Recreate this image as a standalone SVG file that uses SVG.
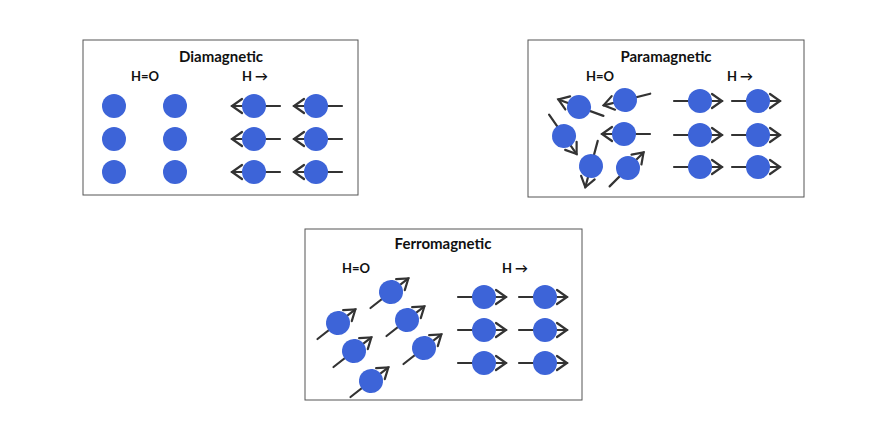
<svg xmlns="http://www.w3.org/2000/svg" xmlns:xlink="http://www.w3.org/1999/xlink" width="880" height="430" viewBox="0 0 880 430">
<style>
.box{fill:#fff;stroke:#555;stroke-width:1}
.t{font-family:Lato,"Open Sans",sans-serif;font-weight:bold;fill:#111;text-anchor:middle}
.ti{font-size:15px}.sub{font-size:13px}
.dot{fill:#3d64d8}
.ln{stroke:#333;stroke-width:2.2;fill:none;stroke-linecap:round}
</style>
<defs>
<g id="spin">
<line class="ln" x1="-26" y1="0" x2="22" y2="0"/>
<circle class="dot" r="12"/>
<polyline class="ln" points="12,-7 22,0 12,7"/>
</g>
<circle id="atom" class="dot" r="12"/>
</defs>
<rect width="880" height="430" fill="#fff"/>
<g id="diamagnetic">
<rect class="box" x="83" y="40" width="275" height="155"/>
<text class="t ti" x="221" y="62">Diamagnetic</text>
<text class="t sub" x="145" y="81">H=O</text>
<text class="t sub" x="255" y="81">H →</text>
<use href="#atom" x="114" y="106"/><use href="#atom" x="175" y="106"/>
<use href="#atom" x="114" y="139"/><use href="#atom" x="175" y="139"/>
<use href="#atom" x="114" y="172"/><use href="#atom" x="175" y="172"/>
<use href="#spin" transform="translate(254,106) rotate(180)"/><use href="#spin" transform="translate(316,106) rotate(180)"/>
<use href="#spin" transform="translate(254,139) rotate(180)"/><use href="#spin" transform="translate(316,139) rotate(180)"/>
<use href="#spin" transform="translate(254,172) rotate(180)"/><use href="#spin" transform="translate(316,172) rotate(180)"/>
</g>
<g id="paramagnetic">
<rect class="box" x="528" y="40" width="276" height="157"/>
<text class="t ti" x="666" y="62">Paramagnetic</text>
<text class="t sub" x="600" y="81">H=O</text>
<text class="t sub" x="740" y="81">H →</text>
<use href="#spin" transform="translate(579,107) rotate(200)"/>
<use href="#spin" transform="translate(625,100) rotate(166)"/>
<use href="#spin" transform="translate(624,134) rotate(180)"/>
<use href="#spin" transform="translate(564,136) rotate(55)"/>
<use href="#spin" transform="translate(591,166) rotate(105)"/>
<use href="#spin" transform="translate(628,168) rotate(-45)"/>
<use href="#spin" transform="translate(700,101)"/><use href="#spin" transform="translate(758,101)"/>
<use href="#spin" transform="translate(700,135)"/><use href="#spin" transform="translate(758,135)"/>
<use href="#spin" transform="translate(700,167)"/><use href="#spin" transform="translate(758,167)"/>
</g>
<g id="ferromagnetic">
<rect class="box" x="305" y="229" width="277" height="171"/>
<text class="t ti" x="443" y="249">Ferromagnetic</text>
<text class="t sub" x="356" y="273">H=O</text>
<text class="t sub" x="515" y="273">H →</text>
<use href="#spin" transform="translate(391,292) rotate(-38)"/>
<use href="#spin" transform="translate(338,323) rotate(-38)"/>
<use href="#spin" transform="translate(407,320) rotate(-38)"/>
<use href="#spin" transform="translate(354,351) rotate(-38)"/>
<use href="#spin" transform="translate(424,348) rotate(-38)"/>
<use href="#spin" transform="translate(371,381) rotate(-38)"/>
<use href="#spin" transform="translate(484,297)"/><use href="#spin" transform="translate(545,297)"/>
<use href="#spin" transform="translate(484,330)"/><use href="#spin" transform="translate(545,330)"/>
<use href="#spin" transform="translate(484,363)"/><use href="#spin" transform="translate(545,363)"/>
</g>
<g id="connectors"/>
</svg>
